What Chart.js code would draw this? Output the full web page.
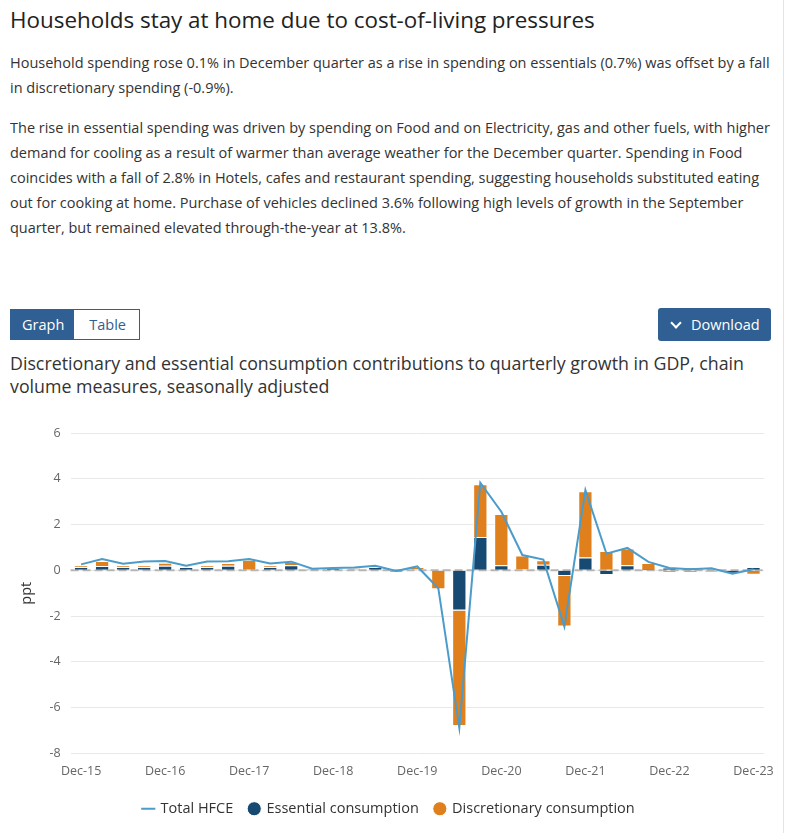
<!DOCTYPE html>
<html>
<head>
<meta charset="utf-8">
<script src="https://cdn.jsdelivr.net/npm/chart.js@4"></script>
<style>
  body { margin: 0; background: #fff; font-family: "Open Sans", sans-serif; color: #333; }
  .page { position: relative; width: 783px; height: 833px; border-right: 1px solid #e4e4e4; overflow: hidden; }
  h1 { position: absolute; left: 10px; top: 4px; margin: 0; font-size: 22.4px; font-weight: 400; color: #222; }
  .para { position: absolute; left: 10px; width: 765px; margin: 0; font-size: 14.5px; line-height: 25px; color: #333; }
  .toggle { position: absolute; left: 10px; top: 309px; height: 31px; display: flex; border: 1px solid #2f5f93; box-sizing: border-box; }
  .toggle span { display: block; line-height: 29px; font-size: 14.5px; }
  .toggle .on { background: #2f5f93; color: #fff; padding: 0 10px 0 11px; }
  .toggle .off { background: #fff; color: #2f5f93; padding: 0 13px 0 15px; }
  .dl { position: absolute; left: 658px; top: 308px; width: 113px; height: 33px; background: #2f5f93; color: #fff; border-radius: 3px; font-size: 14.5px; line-height: 33px; box-sizing: border-box; padding-left: 33px; }
  .dl i { position: absolute; left: 14px; top: 11px; width: 6px; height: 6px; border-right: 2.5px solid #fff; border-bottom: 2.5px solid #fff; transform: rotate(45deg); }
  .ctitle { position: absolute; left: 10px; top: 352px; width: 770px; margin: 0; font-size: 17.8px; line-height: 23px; color: #333; }
  .chartbox { position: absolute; left: 0; top: 410px; width: 780px; height: 426px; }
</style>
</head>
<body>
<div class="page">
  <h1>Households stay at home due to cost-of-living pressures</h1>
  <p class="para" style="top:50px">Household spending rose 0.1% in December quarter as a rise in spending on essentials (0.7%) was offset by a fall in discretionary spending (-0.9%).</p>
  <p class="para" style="top:115px">The rise in essential spending was driven by spending on Food and on Electricity, gas and other fuels, with higher demand for cooling as a result of warmer than average weather for the December quarter. Spending in Food coincides with a fall of 2.8% in Hotels, cafes and restaurant spending, suggesting households substituted eating out for cooking at home. Purchase of vehicles declined 3.6% following high levels of growth in the September quarter, but remained elevated through-the-year at 13.8%.</p>
  <div class="toggle"><span class="on">Graph</span><span class="off">Table</span></div>
  <div class="dl"><i></i>Download</div>
  <p class="ctitle">Discretionary and essential consumption contributions to quarterly growth in GDP, chain volume measures, seasonally adjusted</p>
  <div class="chartbox"><canvas id="myChart"></canvas></div>
</div>
<script>
/* Data, Dec-15 to Dec-23 */
const quarters = [
    'Dec-15','Mar-16','Jun-16','Sep-16','Dec-16','Mar-17','Jun-17','Sep-17',
    'Dec-17','Mar-18','Jun-18','Sep-18','Dec-18','Mar-19','Jun-19','Sep-19',
    'Dec-19','Mar-20','Jun-20','Sep-20','Dec-20','Mar-21','Jun-21','Sep-21',
    'Dec-21','Mar-22','Jun-22','Sep-22','Dec-22','Mar-23','Jun-23','Sep-23','Dec-23'
]
const totalHFCE = [
    0.26, 0.5, 0.29, 0.39, 0.41, 0.2, 0.39, 0.4,
    0.5, 0.3, 0.38, 0.07, 0.1, 0.12, 0.2, -0.03,
    0.17, -0.78, -6.87, 3.83, 2.56, 0.67, 0.47, -2.46,
    3.51, 0.73, 0.98, 0.37, 0.1, 0.05, 0.09, -0.15, 0.05
]
const essential = [
    0.15, 0.19, 0.15, 0.15, 0.2, 0.15, 0.15, 0.2,
    0.03, 0.15, 0.22, 0.03, 0.1, 0.05, 0.15, 0.02,
    0.05, 0.03, -1.75, 1.46, 0.22, 0.05, 0.25, -0.25,
    0.56, -0.2, 0.22, 0.02, 0.13, 0.13, 0.02, -0.15, 0.15
]
const discretionary = [
    0.05, 0.22, 0.05, 0.05, 0.13, 0.02, 0.05, 0.12,
    0.43, 0.05, 0.14, 0.04, 0.0, 0.05, 0.05, -0.1,
    0.1, -0.83, -5.05, 2.3, 2.24, 0.6, 0.19, -2.2,
    2.9, 0.85, 0.73, 0.3, -0.1, -0.1, -0.08, -0.02, -0.19
]
const yTicks = [6, 4, 2, 0, -2, -4, -6, -8]

const lineColor = '#4b9ccb'
const essColor = '#174a72'
const discColor = '#e0801c'

/* dashed zero line behind the bars */
const zeroLine = {
    id: 'zeroLine',
    beforeDatasetsDraw(chart){
        const y = chart.scales.y.getPixelForValue(0)
        const ctx = chart.ctx
        ctx.save()
        ctx.strokeStyle = '#b5b5b5'
        ctx.lineWidth = 2
        ctx.setLineDash([8, 4])
        ctx.beginPath()
        ctx.moveTo(chart.chartArea.left, y)
        ctx.lineTo(chart.chartArea.right, y)
        ctx.stroke()
        ctx.restore()
    }
}

Chart.defaults.font.family = '"Open Sans", sans-serif'
Chart.defaults.color = '#666'

const ctx = document.getElementById('myChart').getContext('2d')
const myChart = new Chart(ctx, {
    type: 'bar',
    data: {
        labels: quarters,
        datasets: [
            {
                type: 'line',
                label: 'Total HFCE',
                data: totalHFCE,
                borderColor: lineColor,
                backgroundColor: lineColor,
                borderWidth: 2,
                pointRadius: 0,
                pointStyle: 'line',
                tension: 0,
                order: 0
            },
            {
                label: 'Essential consumption',
                data: essential,
                backgroundColor: essColor,
                borderColor: '#fff',
                borderWidth: 1,
                barPercentage: 0.85,
                pointStyle: 'circle',
                stack: 's',
                order: 1
            },
            {
                label: 'Discretionary consumption',
                data: discretionary,
                backgroundColor: discColor,
                borderColor: '#fff',
                borderWidth: 1,
                barPercentage: 0.85,
                pointStyle: 'circle',
                stack: 's',
                order: 2
            }
        ]
    },
    options: {
        responsive: true,
        maintainAspectRatio: false,
        animation: false,
        layout: { padding: { left: 14, right: 16, top: 23, bottom: 10 } },
        plugins: {
            tooltip: { enabled: false },
            legend: {
                position: 'bottom',
                labels: {
                    usePointStyle: true,
                    boxWidth: 10,
                    boxHeight: 10,
                    padding: 16,
                    color: '#333',
                    font: { size: 14.5 }
                }
            }
        },
        scales: {
            x: {
                stacked: true,
                grid: { display: false },
                border: { display: false },
                afterFit: function(axis){
                    axis.height += 5
                },
                ticks: {
                    autoSkip: false,
                    maxRotation: 0,
                    color: '#666',
                    font: { size: 12.5 },
                    padding: 2,
                    callback: function(v, i){
                        const l = quarters[i]
                        return l.startsWith('Dec') ? l : ''
                    }
                }
            },
            y: {
                stacked: true,
                min: -8,
                max: 6,
                afterBuildTicks: function(axis){
                    axis.ticks = yTicks.map(v => ({ value: v }))
                },
                grid: { color: '#e8e8e8', lineWidth: 1, drawTicks: false },
                border: { display: false },
                ticks: { color: '#666', font: { size: 12.5 }, padding: 10 },
                title: { display: true, text: 'ppt', color: '#333', font: { size: 14.5 } }
            }
        }
    },
    plugins: [zeroLine]
})
</script>
</body>
</html>
